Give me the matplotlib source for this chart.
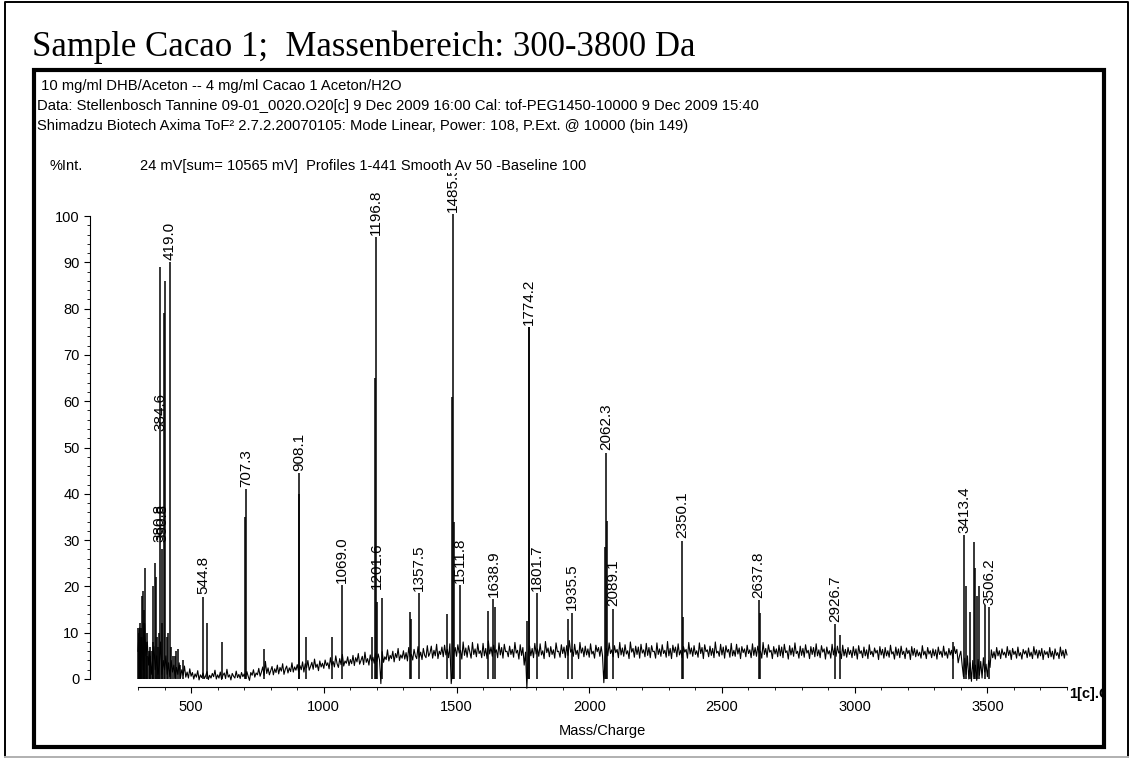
import numpy as np
import matplotlib
matplotlib.use("Agg")
import matplotlib.pyplot as plt
from matplotlib.patches import Rectangle
from matplotlib.lines import Line2D
from matplotlib.ticker import MultipleLocator, FixedLocator
from matplotlib.transforms import Bbox, TransformedBbox

# ---------------------------------------------------------------
# Daten
# ---------------------------------------------------------------
title = "Sample Cacao 1;  Massenbereich: 300-3800 Da"
header_lines = [
    " 10 mg/ml DHB/Aceton -- 4 mg/ml Cacao 1 Aceton/H2O",
    "Data: Stellenbosch Tannine 09-01_0020.O20[c] 9 Dec 2009 16:00 Cal: tof-PEG1450-10000 9 Dec 2009 15:40",
    "Shimadzu Biotech Axima ToF\u00b2 2.7.2.20070105: Mode Linear, Power: 108, P.Ext. @ 10000 (bin 149)",
]
int_label = "%Int."
profile_text = "24 mV[sum= 10565 mV]  Profiles 1-441 Smooth Av 50 -Baseline 100"

# Rauschspur, ein Wert alle 5 Da von 300 bis 3800 (eine Zeile = 100 Da)
trace_start, trace_step = 300, 5
trace = [
    6, 11, 4, 9, 2, 12, 5, 8, 3, 6, 1, 4, 7, 2, 5, 1, 3, 8, 1, 4,
    2, 5, 1, 3.5, 0.5, 4, 1.5, 3, 0.3, 2.5, 1, 3.5, 0.2, 2, 0.8, 2.8, 0.4, 1.5, 0.2, 2.2,
    0.6, 1.4, 0, 1.1, 0.4, 1.8, -0.2, 0.9, 0.3, 1.3, 0.1, 0.7, 1.6, -0.1, 0.8, 0.2, 1.2, 0.5, 1.9, 0,
    0.9, 0.2, 1.5, -0.1, 0.8, 1.3, 0.1, 2.1, 0.4, 0.9, -0.2, 1.2, 0.6, 0.2, 1.7, 0.3, 1.0, 0.1, 1.4, 0.5,
    1.1, 0.2, 1.6, 0.6, -0.3, 1.4, 0.8, 2.0, 0.4, 1.3, 0.9, 2.3, 0.6, 1.5, 2.6, 0.8, 3.8, 1.2, 2.4, 0.9,
    1.8, 2.7, 0.9, 2.2, 1.4, 3.0, 1.1, 2.5, 1.7, 3.3, 1.0, 2.1, 2.8, 1.3, 2.4, 1.6, 3.5, 1.5, 2.6, 1.9,
    3.1, 1.6, 2.9, 2.0, 3.7, 1.5, 3.3, 2.4, 4.0, 1.9, 2.7, 3.6, 2.1, 4.3, 2.5, 3.2, 1.8, 3.9, 2.6, 3.4,
    2.3, 4.1, 2.9, 3.5, 2.2, 4.6, 3.0, 3.8, 2.6, 5.0, 3.3, 2.5, 4.4, 3.1, 5.3, 2.8, 3.9, 3.4, 4.8, 2.9,
    4.2, 3.3, 5.1, 2.9, 4.6, 3.7, 5.5, 3.2, 4.0, 4.9, 3.1, 5.8, 3.6, 4.4, 3.0, 5.2, 3.9, 4.7, 3.4, 5.6,
    3.8, 5.4, 4.1, -1.0, 5.9, 3.6, 4.8, 4.2, 6.3, 3.9, 5.1, 4.4, 6.0, 3.7, 5.5, 4.6, 6.6, 4.0, 5.2, 4.5,
    6.1, 4.3, 5.7, 3.9, 6.8, 4.8, 5.3, 4.1, 6.4, 5.0, 4.4, 7.0, 4.7, 5.8, 4.2, 6.6, 5.1, 4.6, 7.2, 4.9,
    5.6, 7.1, 4.5, 6.2, 5.0, 7.5, 4.4, 6.0, 5.3, 6.9, 4.8, 7.3, 5.2, 6.4, 4.6, 7.6, -1.0, 2.0, 5.5, 6.8,
    4.9, 7.4, 5.6, 6.2, 4.3, 8.0, 5.1, 6.7, 4.7, 7.2, 5.8, 4.5, 7.9, 5.3, 6.5, 4.8, 7.6, 5.5, 6.1, 4.6,
    7.7, 5.0, 6.6, 4.4, 8.2, 5.4, 6.9, 4.9, 7.3, 5.7, 6.3, 4.6, 7.8, 5.2, 6.8, 4.5, 7.5, 5.9, 6.0, 4.8,
    7.1, 5.3, 6.4, 4.7, 7.9, 5.6, 6.2, 4.3, 7.4, 5.1, 6.8, 3.0, 5.8, -2.0, 5.5, 7.2, 5.0, 6.6, 4.6, 7.7,
    5.4, 6.5, 4.9, 7.6, 5.2, 6.1, 4.4, 8.1, 5.7, 6.7, 4.8, 7.0, 5.3, 6.3, 4.5, 7.8, 5.9, 6.0, 4.7, 7.4,
    5.5, 6.9, 4.6, 7.2, 5.1, 8.3, 5.8, 6.4, 4.9, 7.5, 5.3, 6.2, 4.4, 7.9, 5.6, 6.7, 4.8, 7.1, 5.2, 6.5,
    4.7, 7.6, 5.4, 6.0, 4.5, 7.3, 5.9, 6.8, 4.9, 7.0, 5.1, -0.8, 4.6, 6.6, 5.0, 7.8, 5.5, 6.3, 4.8, 7.2,
    5.7, 6.4, 4.6, 7.9, 5.2, 6.7, 4.9, 7.4, 5.4, 6.1, 4.4, 8.0, 5.8, 6.6, 4.7, 7.1, 5.3, 6.9, 4.5, 7.5,
    5.6, 6.3, 4.8, 7.7, 5.1, 6.8, 4.6, 7.2, 5.9, 6.0, 4.5, 7.8, 5.3, 6.5, 4.9, 7.4, 5.5, 6.2, 4.7, 8.1,
    5.0, 6.6, 4.4, 7.3, 5.7, 6.9, 4.8, 7.6, 5.2, 6.2, 4.6, 7.0, 5.8, 6.4, 4.5, 7.9, 5.4, 6.7, 4.9, 7.2,
    5.3, 6.1, 4.7, 7.8, 5.5, 6.8, 4.4, 7.4, 5.9, 6.3, 4.8, 7.1, 5.1, 6.6, 4.6, 8.0, 5.6, 6.0, 4.9, 7.5,
    5.2, 6.9, 4.5, 7.2, 5.8, 6.4, 4.7, 7.7, 5.0, 6.2, 4.9, 7.5, 5.4, 6.7, 4.4, 7.0, 5.7, 6.5, 4.8, 7.3,
    5.5, 6.3, 4.6, 7.6, 5.1, 6.8, 4.9, 7.1, 5.6, 6.0, 4.5, 7.9, 5.3, 6.6, 4.7, 7.4, 5.8, 6.2, 4.4, 7.0,
    5.4, 6.5, 4.8, 7.3, 5.0, 6.9, 4.6, 7.5, 5.7, 6.1, 4.3, 7.2, 5.2, 6.7, 4.9, 7.8, 5.5, 6.0, 4.5, 7.1,
    5.1, 6.6, 4.7, 7.4, 5.6, 6.2, 4.4, 7.0, 5.3, 6.8, 4.8, 7.6, 5.0, 6.3, 4.6, 7.2, 5.8, 6.5, 4.3, 6.9,
    5.4, 6.1, 4.5, 7.5, 5.2, 6.7, 4.9, 7.1, 5.6, 6.0, 4.4, 7.3, 5.0, 6.4, 4.7, 6.8, 5.3, 6.2, 4.6, 7.0,
    5.1, 6.5, 4.3, 7.2, 5.5, 6.1, 4.6, 6.9, 5.0, 6.3, 4.4, 7.4, 5.3, 6.0, 4.8, 6.7, 5.6, 6.2, 4.2, 7.0,
    5.2, 6.4, 4.5, 6.8, 5.0, 6.1, 4.7, 7.3, 5.4, 5.9, 4.3, 6.9, 5.1, 6.5, 4.6, 7.1, 5.3, 6.0, 4.4, 6.7,
    5.5, 6.2, 4.2, 7.0, 5.1, 6.6, 4.8, 6.3, 5.0, 5.8, 4.5, 7.2, 5.2, 6.0, 4.4, 6.8, 5.4, 6.1, 4.6, 6.5,
    5.0, 6.3, 4.3, 6.9, 5.3, 6.0, 4.7, 7.1, 5.1, 5.9, 4.5, 6.6, 5.2, 6.2, 4.4, 7.0, 5.5, 6.4, 3.5, 5.0,
    6.0, 3.0, 0.5, 4.5, 1.0, 5.0, 0, 3.5, -0.5, 4.0, 0.5, 3.0, -0.3, 4.2, 0.8, 3.8, 0.2, 4.6, 1.5, 3.2,
    0.5, 4.0, 2.5, 6.3, 4.6, 5.9, 4.3, 6.8, 5.0, 6.1, 4.4, 6.5, 5.2, 5.8, 4.6, 7.0, 5.1, 6.2, 4.2, 6.6,
    5.3, 6.0, 4.5, 6.9, 5.0, 5.7, 4.3, 6.4, 5.4, 6.1, 4.6, 6.7, 4.9, 5.8, 4.4, 7.0, 5.2, 6.3, 4.5, 6.2,
    5.0, 6.6, 4.2, 6.1, 5.3, 5.9, 4.6, 6.8, 4.8, 6.0, 4.3, 6.5, 5.1, 5.7, 4.4, 6.9, 5.0, 6.2, 4.5, 6.4,
    5.2,
]

# Peaks (Masse, Intensitaet in %)
peak_mass = [300, 303, 304, 306, 308, 310, 313, 316, 319, 322, 324, 326,
             329, 333, 335, 340, 345, 347, 352, 355, 358, 363, 367, 372,
             375, 380, 384.6, 390.8, 392, 398.8, 402.5, 408, 412, 419.0,
             425, 430, 438, 445, 452, 460, 470,
             544.8, 559, 616, 704.5, 707.3, 775, 905.5, 908.1, 933, 1032,
             1069.0, 1183, 1194, 1196.8, 1201.6, 1219, 1323, 1328, 1357.5,
             1466, 1482.5, 1485.5, 1491, 1511.8, 1620, 1638.9, 1645, 1765,
             1771.5, 1774.2, 1801.7, 1920, 1935.5, 2058, 2062.3, 2066,
             2089.1, 2350.1, 2355, 2637.8, 2643, 2926.7, 2945, 3370,
             3413.4, 3418, 3435, 3450, 3455, 3462, 3470, 3490, 3506.2]
peak_int = [11, 8, 10, 12, 6, 11, 9, 18, 19, 12, 15, 24,
            8, 10, 5, 6, 7, 5, 6, 8, 20, 25, 22, 9,
            7, 10, 89, 28, 12, 79, 86, 9, 10, 90,
            7, 5, 5, 6, 6.5, 3, 4,
            17.8, 12, 8, 35, 41, 6.5, 40, 44.5, 9, 9,
            20.3, 9, 65, 95.5, 16.7, 17.4, 14.4, 13, 18.5,
            14, 61, 100.4, 34, 20.3, 14.7, 17.3, 15.6, 12.6,
            76, 76, 18.6, 13, 14.3, 28.6, 48.9, 34.2,
            15.2, 29.9, 13.4, 17, 14.3, 11.9, 9.5, 8,
            31, 20, 14.4, 29.5, 24, 18, 20, 16, 15.5]

# beschriftete Peaks und Hoehe der Beschriftung
label_text = ["384.6", "380.8", "390.8", "419.0", "544.8", "707.3", "908.1",
              "1069.0", "1196.8", "1201.6", "1357.5", "1485.5", "1511.8",
              "1638.9", "1774.2", "1801.7", "1935.5", "2062.3", "2089.1",
              "2350.1", "2637.8", "2926.7", "3413.4", "3506.2"]
label_mass = [384.6, 380.8, 390.8, 419.0, 544.8, 707.3, 908.1,
              1069.0, 1196.8, 1201.6, 1357.5, 1485.5, 1511.8,
              1638.9, 1774.2, 1801.7, 1935.5, 2062.3, 2089.1,
              2350.1, 2637.8, 2926.7, 3413.4, 3506.2]
label_int = [53, 29, 29, 90, 17.8, 41, 44.5,
             20.3, 95.5, 19, 18.5, 100.4, 20.3,
             17.3, 76, 18.6, 14.3, 48.9, 15.2,
             29.9, 17, 11.9, 31, 15.5]

x_ticks = [500, 1000, 1500, 2000, 2500, 3000, 3500]
y_ticks = [0, 10, 20, 30, 40, 50, 60, 70, 80, 90, 100]

# ---------------------------------------------------------------
W, H = 1130, 767
sans = ["Liberation Sans", "DejaVu Sans"]
serif = ["Liberation Serif", "DejaVu Serif"]
plt.rcParams["font.family"] = sans


def fx(x):
    return x / W


def fy(y):
    return 1 - y / H


fig = plt.figure(figsize=(W / 100, H / 100), dpi=100)

# aeusserer Rahmen (unten grau), innerer dicker Rahmen
fig.lines.append(Line2D([fx(5), fx(5), fx(1128), fx(1128)],
                        [fy(757), fy(2), fy(2), fy(757)],
                        transform=fig.transFigure, color="black", lw=1.4))
fig.lines.append(Line2D([fx(5), fx(1128)], [fy(757), fy(757)],
                        transform=fig.transFigure, color="#b0b0b0", lw=1.4))
fig.patches.append(Rectangle((fx(34), fy(747)), fx(1104) - fx(34), fy(70) - fy(747),
                             transform=fig.transFigure, fill=False,
                             edgecolor="black", linewidth=3.0, zorder=5))

# Achse: x 300..3800 auf 138..1067 px, y 100 bei 216 px, 0 bei 679 px
ax_l, ax_r, ax_t, ax_b = 138, 1067, 216, 687
ax = fig.add_axes([fx(ax_l), fy(ax_b), fx(ax_r) - fx(ax_l), fy(ax_t) - fy(ax_b)])
ax.set_xlim(300, 3800)
ax.set_ylim(-8 / 4.63, 100)
ax.patch.set_visible(False)

masses = trace_start + trace_step * np.arange(len(trace))
ax.plot(masses, trace, color="black", lw=0.8, clip_on=False)
ax.vlines(peak_mass, 0, peak_int, color="black", lw=1.1, clip_on=False)

for txt, m, v in zip(label_text, label_mass, label_int):
    ax.text(m, v + 0.5, txt, rotation=90, ha="center", va="bottom",
            fontsize=11, clip_on=False)

for s in ("top", "right"):
    ax.spines[s].set_visible(False)
ax.spines["left"].set_position(("outward", 48 * 0.72))
ax.spines["left"].set_bounds(0, 100)
ax.spines["left"].set_linewidth(0.8)
ax.spines["bottom"].set_linewidth(0.8)

ax.xaxis.set_major_locator(FixedLocator(x_ticks))
ax.xaxis.set_minor_locator(MultipleLocator(100))
ax.yaxis.set_major_locator(FixedLocator(y_ticks))
ax.yaxis.set_minor_locator(MultipleLocator(2))
ax.tick_params(axis="both", which="major", length=4.5, width=0.8, labelsize=10.5, pad=3)
ax.tick_params(axis="x", which="major", pad=5)
ax.tick_params(axis="both", which="minor", length=2.2, width=0.6)
ax.set_xlabel("Mass/Charge", fontsize=10.5, labelpad=7)

# Texte
fig.text(fx(32), fy(56), title, family=serif, fontsize=25, va="baseline", ha="left")
for i, line in enumerate(header_lines):
    fig.text(fx(37), fy(86 + 20 * i), line, fontsize=10.6, va="center", ha="left")
fig.text(fx(50), fy(166), int_label, fontsize=10.5, va="center", ha="left")
fig.text(fx(140), fy(166), profile_text, fontsize=10.5, va="center", ha="left",
         bbox=dict(facecolor="white", edgecolor="none", pad=0.3), zorder=6)

end_lbl = fig.text(fx(1069), fy(694), "1[c].C", fontsize=10.5, fontweight="bold",
                   va="center", ha="left")
end_lbl.set_clip_box(TransformedBbox(Bbox([[fx(34), fy(747)], [fx(1102), fy(70)]]),
                                     fig.transFigure))
end_lbl.set_clip_on(True)

fig.savefig("out.png", dpi=100)
